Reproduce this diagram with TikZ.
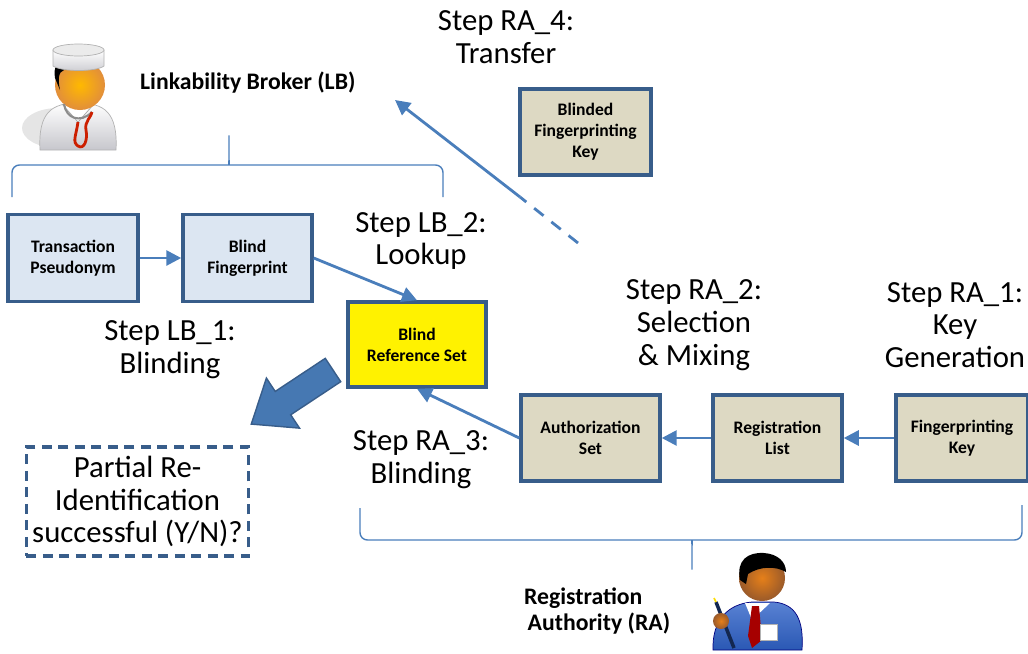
\documentclass[tikz,border=0pt]{standalone}
\usepackage{fontspec}
\setmainfont{Carlito}
\usetikzlibrary{arrows.meta}

\definecolor{flowblue}{HTML}{4A7EBB}
\definecolor{boxline}{HTML}{385D8A}
\definecolor{lbfill}{HTML}{DCE6F2}
\definecolor{rafill}{HTML}{DDD9C3}
\definecolor{skin}{HTML}{E8913A}
\definecolor{darkskin}{HTML}{9A5A2A}
\definecolor{suit}{HTML}{2F62C8}

\newcommand\boxlabelfont{\fontsize{10}{12}\selectfont\bfseries}
\newcommand\steplabelfont{\fontsize{17.5}{18.7}\selectfont}
\newcommand\rolelabelfont{\fontsize{13.5}{15}\selectfont\bfseries}

\tikzset{
  lbbox/.style={draw=boxline,line width=2pt,fill=lbfill,minimum height=1.74cm,
    align=center,font=\boxlabelfont},
  rabox/.style={lbbox,fill=rafill},
  steplabel/.style={align=center,font=\steplabelfont},
  flow/.style={draw=flowblue,line width=1.6pt,-{Triangle[length=0.3cm,width=0.3cm]}},
  grouping/.style={draw=flowblue,line width=0.8pt,rounded corners=0.15cm}
}

\begin{document}
\begin{tikzpicture}[x=0.02cm,y=-0.02cm]
  \useasboundingbox (0,0) rectangle (1028,653);

  % boxes
  \node[lbbox,minimum width=2.6cm] (tp) at (73,258) {Transaction\\Pseudonym};
  \node[lbbox,minimum width=2.58cm] (bf) at (247.5,258) {Blind\\Fingerprint};
  \node[lbbox,fill=yellow,minimum width=2.76cm,minimum height=1.7cm] (brs) at (417,344.5) {Blind\\Reference Set};
  \node[rabox,minimum width=2.62cm,minimum height=1.72cm] (bfk) at (585.5,132) {Blinded\\Fingerprinting\\Key};
  \node[rabox,minimum width=2.78cm,minimum height=1.72cm] (as) at (590.5,438) {Authorization\\Set};
  \node[rabox,minimum width=2.58cm,minimum height=1.72cm] (rl) at (777.5,438) {Registration\\List};
  \node[rabox,minimum width=2.64cm,minimum height=1.72cm] (fk) at (962,438) {Fingerprinting\\Key};
  \node[draw=boxline,line width=1.8pt,dash pattern=on 0.2cm off 0.13cm,fill=white,
    minimum width=4.42cm,minimum height=2.18cm,align=center,font=\steplabelfont]
    (reid) at (137.5,501.5) {Partial Re-\\Identification\\successful (Y/N)?};

  % step labels
  \node[steplabel] (ra4) at (506,37) {Step RA\_4:\\Transfer};
  \node[steplabel] (lb2) at (421,241) {Step LB\_2:\\Lookup};
  \node[steplabel] (ra2) at (694,325) {Step RA\_2:\\Selection\\\& Mixing};
  \node[steplabel] (ra1) at (955,325) {Step RA\_1:\\Key\\Generation};
  \node[steplabel] (lb1) at (170,350) {Step LB\_1:\\Blinding};
  \node[steplabel] (ra3) at (421,460) {Step RA\_3:\\Blinding};

  \node[font=\rolelabelfont,anchor=west] (lb) at (134,83) {Linkability Broker (LB)};
  \node[font=\rolelabelfont,align=left,anchor=west] (ra) at (518,611) {Registration\\\hspace{2pt}Authority (RA)};

  % flows
  \draw[flow] (tp) -- (bf);
  \draw[flow] (bf.east) -- (brs.north);
  \draw[flow] (fk) -- (rl);
  \draw[flow] (rl) -- (as);
  \draw[flow] (as.west) -- (brs.south);

  \coordinate (xferstart) at (578,243);
  \coordinate (xfermid) at (520,197);
  \coordinate (xfertip) at (395,100);
  \draw[flowblue,line width=1.6pt,dash pattern=on 0.24cm off 0.2cm] (xferstart) -- (xfermid);
  \draw[flow] (xfermid) -- (xfertip);

  % big arrow to the result
  \begin{scope}[shift={(333,370)},rotate=213.5]
    \draw[boxline,line width=0.8pt,fill=flowblue!95!black]
      (0,-14) -- (60,-14) -- (60,-30) -- (98,0) -- (60,30) -- (60,14) -- (0,14) -- cycle;
  \end{scope}

  % braces
  \draw[grouping] (12,197) |- (222,165) .. controls (229,165) .. (229,131)
    .. controls (229,165) .. (236,165) -| (443,197);
  \draw[grouping] (360,508) |- (685,540) .. controls (692,540) .. (692,574)
    .. controls (692,540) .. (699,540) -| (1022,505);

  % LB person
  \fill[black!10] (58,128) ellipse (36 and 20);
  \draw[black!30,top color=white,bottom color=blue!10!black!22]
    (40,150) .. controls (38,112) and (52,103) .. (78,103)
    .. controls (104,103) and (118,112) .. (116,150) -- cycle;
  \draw[black!35,fill=white] (62,104) -- (78,122) -- (94,104);
  \shade[inner color=orange!55!yellow,outer color=skin!85!brown] (80,85) circle (25);
  \fill[black] (55,78) .. controls (53,66) and (58,62) .. (64,62) -- (64,70)
    .. controls (58,72) and (58,80) .. (60,90) -- cycle;
  \draw[black!30,top color=white,bottom color=blue!10!black!20]
    (53,50) -- (53,66) .. controls (62,72) and (96,72) .. (104,66) -- (104,50) -- cycle;
  \draw[black!30,fill=black!8] (78.5,50) ellipse (25.5 and 6);
  \draw[black!45,line width=1.2pt] (64,104) .. controls (66,118) and (80,124) .. (92,112);
  \draw[red!70!orange!80!black,line width=1.6pt] (78,122) .. controls (76,136) and (72,142) .. (78,146)
    .. controls (84,150) and (88,140) .. (86,130) .. controls (84,122) and (92,116) .. (92,112);

  % RA person
  \draw[blue!50!black,top color=suit!80!white,bottom color=suit!90!black]
    (713,650) .. controls (712,620) and (728,604) .. (752,602) -- (774,602)
    .. controls (796,604) and (804,620) .. (802,650) -- cycle;
  \fill[white] (745,603) -- (752,620) -- (770,603) -- cycle;
  \fill[red!65!black] (752,606) -- (759,606) -- (762,640) -- (752,648) -- (748,636) -- cycle;
  \shade[inner color=orange!60!brown,outer color=darkskin] (762,578) circle (23);
  \fill[black] (740,580) .. controls (736,560) and (748,552) .. (764,553)
    .. controls (778,554) and (786,562) .. (786,572) .. controls (776,566) and (760,566) .. (748,574)
    -- (746,584) -- cycle;
  \draw[black!30,fill=white] (760,624) rectangle (777,640);
  \draw[suit!40!black,line width=2pt] (716,602) -- (734,648);
  \draw[yellow!80!orange,line width=1pt] (714,598) -- (716,602);
  \shade[inner color=orange!60!brown,outer color=darkskin] (721,621) circle (8);
\end{tikzpicture}
\end{document}
